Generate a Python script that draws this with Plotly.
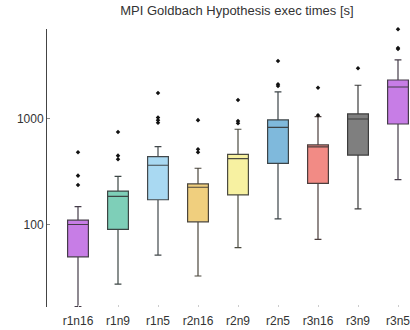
import plotly.graph_objects as go

# Run configurations (ranks x nodes)
configs = ["r1n16", "r1n9", "r1n5", "r2n16", "r2n9", "r2n5", "r3n16", "r3n9", "r3n5"]

# Box statistics of execution times in seconds
lower_whisker = [17, 27.7, 52, 33, 61, 114, 73, 142, 268]
q1 = [50, 91, 173, 107, 192, 382, 247, 457, 897]
median = [101, 186, 366, 227, 422, 835, 545, 1000, 2004]
q3 = [111, 209, 441, 244, 464, 979, 569, 1115, 2333]
upper_whisker = [149, 288, 548, 343, 800, 1800, 1052, 2080, 3606]

# Outlying runs
outlier_config = ["r1n16", "r1n16", "r1n16",
                  "r1n9", "r1n9", "r1n9",
                  "r1n5", "r1n5", "r1n5", "r1n5",
                  "r2n16", "r2n16", "r2n16",
                  "r2n9", "r2n9", "r2n9",
                  "r2n5", "r2n5", "r2n5",
                  "r3n16", "r3n16",
                  "r3n9",
                  "r3n5", "r3n5", "r3n5"]
outlier_time = [238, 292, 485,
                417, 451, 754,
                920, 975, 1030, 1760,
                485, 518, 975,
                910, 955, 1510,
                2045, 2125, 3524,
                1083, 1973,
                3006,
                4570, 4680, 7016]

fill_colors = ["#c77de6", "#7ecfb8", "#a9d9f2", "#f0cf7e", "#f7f1a1",
               "#7fb9dc", "#f28b85", "#7f7f7f", "#c77de6"]


def edge(hex_color, tint=0.25, base=(60, 60, 60)):
    """Dark outline colour lightly tinted by the box fill."""
    r, g, b = (int(hex_color[i:i + 2], 16) for i in (1, 3, 5))
    mix = [int(tint * 0.5 * c + (1 - tint) * bc) for c, bc in zip((r, g, b), base)]
    return "#%02x%02x%02x" % tuple(mix)


fig = go.Figure()
for i, name in enumerate(configs):
    fig.add_trace(go.Box(
        x=[name],
        q1=[q1[i]], median=[median[i]], q3=[q3[i]],
        lowerfence=[lower_whisker[i]], upperfence=[upper_whisker[i]],
        fillcolor=fill_colors[i],
        line=dict(color=edge(fill_colors[i]), width=1.2),
        width=0.52,
        whiskerwidth=0.33,
        boxpoints=False,
        hoverinfo="y",
        showlegend=False,
    ))

fig.add_trace(go.Scatter(
    x=outlier_config, y=outlier_time, mode="markers",
    marker=dict(symbol="diamond", size=3.5, color="#111111"),
    cliponaxis=False,
    showlegend=False,
))

fig.update_layout(
    width=410, height=330,
    margin=dict(l=47, r=0, t=29, b=23),
    paper_bgcolor="white", plot_bgcolor="white",
    font=dict(family="Liberation Sans, Arial, sans-serif", size=12, color="#333333"),
    title=dict(text="MPI Goldbach Hypothesis exec times [s]",
               x=0.578, xanchor="center", xref="container",
               y=1 - 10 / 330, yanchor="middle", yref="container",
               font=dict(size=13, color="#333333")),
)

fig.update_xaxes(
    type="category", categoryorder="array", categoryarray=configs,
    range=[-0.775, 8.3],
    showgrid=False, zeroline=False, showline=False,
    ticks="inside", ticklen=2, tickcolor="#cccccc",
    ticklabelstandoff=5,
    tickfont=dict(size=12, color="#333333"),
)

fig.update_yaxes(
    type="log", range=[1.226, 3.849],
    tickvals=[100, 1000], ticktext=["100", "1000"],
    showgrid=False, zeroline=False,
    showline=True, linecolor="#444444", linewidth=1,
    ticks="inside", ticklen=3, tickcolor="#888888",
    tickfont=dict(size=12, color="#333333"),
)

fig.write_html("out.html")
